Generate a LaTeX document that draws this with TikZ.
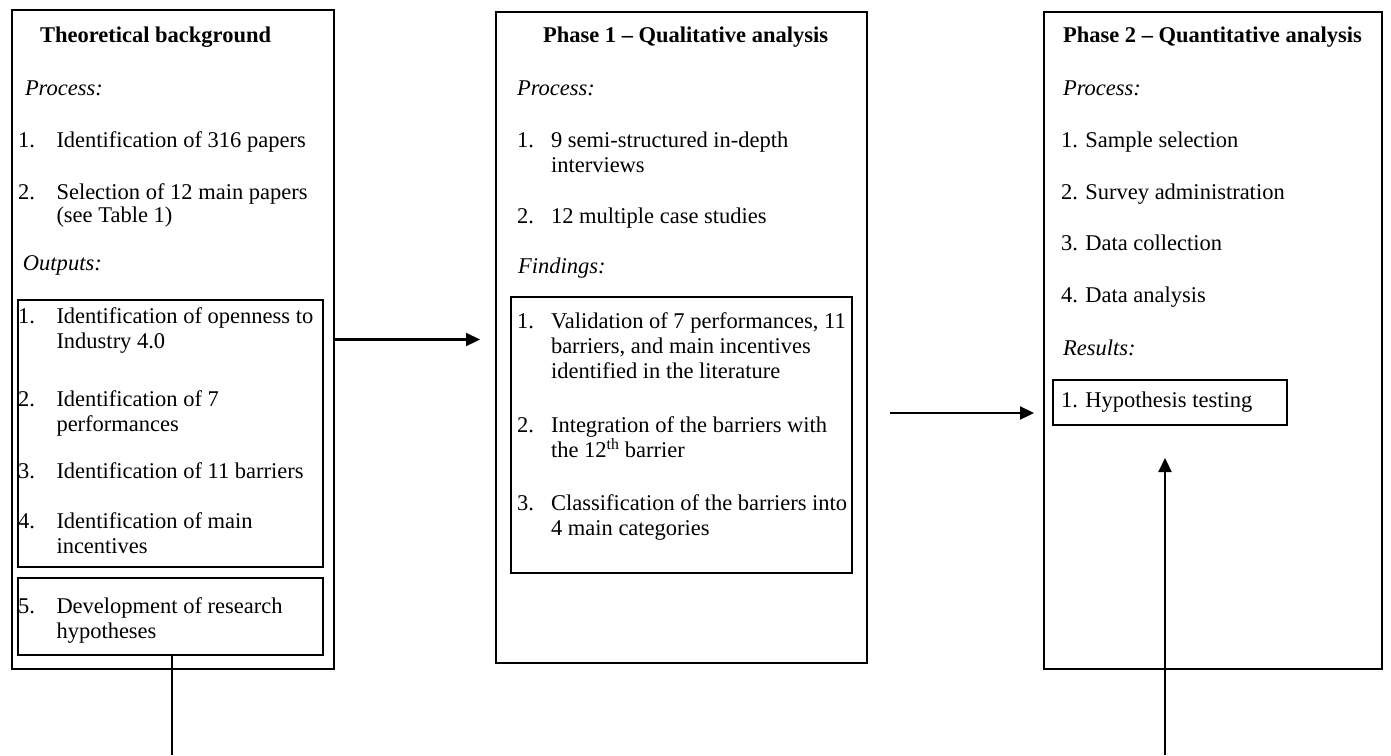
\documentclass[tikz,border=0pt]{standalone}
\usepackage{fontspec}
\setmainfont{Liberation Serif}
\usetikzlibrary{arrows.meta}
\tikzset{
  box/.style={draw=black, line width=2.2pt, anchor=north west, inner sep=0pt, outer sep=0pt},
  txt/.style={anchor=base west, inner sep=0pt, outer sep=0pt, font=\fontsize{22.5}{25}\selectfont},
  ttl/.style={txt, font=\fontsize{22.5}{25}\selectfont\bfseries},
  lbl/.style={txt, font=\fontsize{22.5}{25}\selectfont\itshape},
  conn/.style={line width=2.2pt, black},
  arr/.style={conn, -{Triangle[length=14pt,width=13pt]}}
}
\begin{document}
\begin{tikzpicture}[x=1pt, y=-1pt]
\useasboundingbox[fill=white] (0,0) rectangle (1391,755);

% ---------- boxes ----------
\node[box, minimum width=322pt, minimum height=659pt] (L)  at (12,10)  {};
\node[box, minimum width=305pt, minimum height=267pt] (L1) at (18,300) {};
\node[box, minimum width=305pt, minimum height=77pt]  (L5) at (18,578) {};
\node[box, minimum width=371pt, minimum height=651pt] (M)  at (496,12) {};
\node[box, minimum width=341pt, minimum height=276pt] (M1) at (511,297) {};
\node[box, minimum width=338pt, minimum height=657pt] (R)  at (1044,12) {};
\node[box, minimum width=234pt, minimum height=45pt]  (R1) at (1053,380) {};

% ---------- left column ----------
\node[ttl] (lt) at (40,42) {Theoretical background};
\node[lbl] (lp) at (25,95) {Process:};
\node[txt] (lp1n) at (18,147) {1.};
\node[txt] (lp1)  at (56.5,147) {Identification of 316 papers};
\node[txt] (lp2n) at (18,199) {2.};
\node[txt] (lp2)  at (56.5,199) {Selection of 12 main papers};
\node[txt] (lp2b) at (56.5,222) {(see Table 1)};
\node[lbl] (lo) at (23,270) {Outputs:};
\node[txt] (lo1n) at (18,323) {1.};
\node[txt] (lo1)  at (56.5,323) {Identification of openness to};
\node[txt] (lo1b) at (56.5,348) {Industry 4.0};
\node[txt] (lo2n) at (18,406) {2.};
\node[txt] (lo2)  at (56.5,406) {Identification of 7};
\node[txt] (lo2b) at (56.5,431) {performances};
\node[txt] (lo3n) at (18,478) {3.};
\node[txt] (lo3)  at (56.5,478) {Identification of 11 barriers};
\node[txt] (lo4n) at (18,528) {4.};
\node[txt] (lo4)  at (56.5,528) {Identification of main};
\node[txt] (lo4b) at (56.5,553) {incentives};
\node[txt] (lo5n) at (18,613) {5.};
\node[txt] (lo5)  at (56.5,613) {Development of research};
\node[txt] (lo5b) at (56.5,638) {hypotheses};

% ---------- middle column ----------
\node[ttl] (mt) at (543,42) {Phase 1 -- Qualitative analysis};
\node[lbl] (mp) at (517,95) {Process:};
\node[txt] (mp1n) at (517,147) {1.};
\node[txt] (mp1)  at (551,147) {9 semi-structured in-depth};
\node[txt] (mp1b) at (551,172) {interviews};
\node[txt] (mp2n) at (517,223) {2.};
\node[txt] (mp2)  at (551,223) {12 multiple case studies};
\node[lbl] (mf) at (518,273) {Findings:};
\node[txt] (mf1n) at (517,328) {1.};
\node[txt] (mf1)  at (551,328) {Validation of 7 performances, 11};
\node[txt] (mf1b) at (551,353) {barriers, and main incentives};
\node[txt] (mf1c) at (551,378) {identified in the literature};
\node[txt] (mf2n) at (517,432) {2.};
\node[txt] (mf2)  at (551,432) {Integration of the barriers with};
\node[txt] (mf2b) at (551,457) {the 12\textsuperscript{th} barrier};
\node[txt] (mf3n) at (517,510) {3.};
\node[txt] (mf3)  at (551,510) {Classification of the barriers into};
\node[txt] (mf3b) at (551,535) {4 main categories};

% ---------- right column ----------
\node[ttl] (rt) at (1063,42) {Phase 2 -- Quantitative analysis};
\node[lbl] (rp) at (1063,95) {Process:};
\node[txt] (rp1) at (1061,147) {1. Sample selection};
\node[txt] (rp2) at (1061,199) {2. Survey administration};
\node[txt] (rp3) at (1061,250) {3. Data collection};
\node[txt] (rp4) at (1061,302) {4. Data analysis};
\node[lbl] (rr) at (1063,355) {Results:};
\node[txt] (rr1) at (1061,407) {1. Hypothesis testing};

% ---------- connectors ----------
\coordinate (a1e) at (480,339.5);
\coordinate (a2s) at (890,413);
\coordinate (a2e) at (1034,413);
\coordinate (l5b) at (172,755);
\coordinate (a3s) at (1165,755);
\coordinate (a3e) at (1165,458);

\draw[arr] (L.east) -- (a1e);
\draw[arr] (a2s) -- (a2e);
\draw[conn] (L5.south -| l5b) -- (l5b);
\draw[arr] (a3s) -- (a3e);
\end{tikzpicture}
\end{document}
